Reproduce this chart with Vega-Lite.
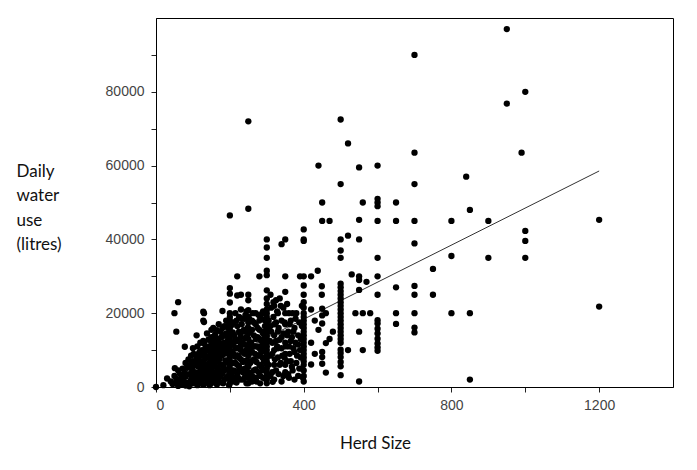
{
  "$schema": "https://vega.github.io/schema/vega-lite/v6.json",
  "width": 517,
  "height": 369,
  "autosize": {"type": "none"},
  "padding": {"left": 156, "top": 18, "right": 24, "bottom": 83},
  "background": "white",
  "config": {
    "view": {"stroke": "black", "strokeWidth": 1},
    "axis": {
      "grid": false,
      "domainColor": "black",
      "tickColor": "#222",
      "tickSize": 5,
      "labelFont": "Liberation Sans",
      "labelFontSize": 14,
      "labelColor": "#444",
      "labelOverlap": false,
      "titleFont": "Lato",
      "titleFontSize": 17,
      "titleFontWeight": "normal",
      "titleColor": "#111"
    }
  },
  "datasets": {
    "herds": [
      {"h":0,"w":0},{"h":20,"w":500},{"h":30,"w":2300},{"h":40,"w":1500},{"h":45,"w":800},{"h":50,"w":3000},{"h":50,"w":1000},{"h":51,"w":5100},{"h":55,"w":2200},{"h":60,"w":4500},{"h":60,"w":1800},{"h":60,"w":300},{"h":65,"w":3500},{"h":50,"w":20000},{"h":55,"w":15000},{"h":60,"w":23000},{"h":78,"w":10900},{"h":128,"w":20400},{"h":128,"w":18000},
      {"h":70,"w":2500},{"h":70,"w":600},{"h":72,"w":5000},{"h":75,"w":1500},{"h":78,"w":3800},{"h":80,"w":6500},{"h":80,"w":2800},{"h":80,"w":400},{"h":85,"w":5200},{"h":85,"w":1200},{"h":88,"w":7500},{"h":90,"w":3500},{"h":90,"w":200},{"h":92,"w":6000},{"h":95,"w":2000},{"h":95,"w":8500},{"h":98,"w":4500},{"h":100,"w":7000},{"h":100,"w":1000},{"h":100,"w":3000},{"h":100,"w":10500},{"h":100,"w":5500},
      {"h":102,"w":9000},{"h":105,"w":4000},{"h":105,"w":1500},{"h":108,"w":6500},{"h":110,"w":14000},{"h":110,"w":8000},{"h":110,"w":2500},{"h":112,"w":500},{"h":112,"w":11000},{"h":115,"w":5500},{"h":115,"w":7500},{"h":118,"w":3000},{"h":118,"w":9500},{"h":120,"w":12000},{"h":120,"w":6000},{"h":120,"w":1000},{"h":120,"w":4200},{"h":122,"w":8800},{"h":125,"w":2000},{"h":125,"w":10000},{"h":125,"w":5000},{"h":125,"w":7000},{"h":128,"w":3500},{"h":128,"w":12500},{"h":130,"w":20000},{"h":130,"w":17600},{"h":130,"w":9000},{"h":130,"w":6500},{"h":130,"w":800},{"h":132,"w":4800},{"h":135,"w":11000},{"h":135,"w":2800},{"h":135,"w":7800},{"h":138,"w":14500},{"h":138,"w":5800},{"h":140,"w":10000},{"h":140,"w":3800},{"h":140,"w":1500},{"h":140,"w":8200},{"h":142,"w":12800},{"h":145,"w":6500},{"h":145,"w":500},{"h":145,"w":4600},{"h":148,"w":9400},{"h":148,"w":2300},{"h":150,"w":13500},{"h":150,"w":7200},{"h":150,"w":11500},{"h":150,"w":3200},{"h":150,"w":15500},{"h":150,"w":5200},{"h":150,"w":1000},
      {"h":105,"w":6000},{"h":108,"w":2500},{"h":112,"w":3800},{"h":115,"w":9000},{"h":118,"w":1200},{"h":122,"w":5500},{"h":125,"w":8500},{"h":128,"w":600},{"h":130,"w":11800},{"h":132,"w":2500},{"h":135,"w":4000},{"h":138,"w":9800},{"h":140,"w":6000},{"h":142,"w":2000},{"h":145,"w":11000},{"h":145,"w":8000},{"h":148,"w":13000},{"h":150,"w":9500},
      {"h":152,"w":8800},{"h":155,"w":10400},{"h":155,"w":4000},{"h":155,"w":16000},{"h":158,"w":6200},{"h":158,"w":1800},{"h":160,"w":12000},{"h":160,"w":14200},{"h":160,"w":8000},{"h":160,"w":3000},{"h":162,"w":9800},{"h":165,"w":5200},{"h":165,"w":15400},{"h":165,"w":11000},{"h":165,"w":700},{"h":168,"w":7000},{"h":170,"w":13000},{"h":170,"w":2500},{"h":170,"w":17000},{"h":170,"w":9500},{"h":172,"w":4500},{"h":175,"w":11800},{"h":175,"w":6000},{"h":175,"w":15000},{"h":178,"w":1200},{"h":178,"w":8500},{"h":180,"w":20600},{"h":180,"w":10500},{"h":180,"w":3800},{"h":180,"w":13800},{"h":182,"w":5800},{"h":185,"w":16500},{"h":185,"w":9000},{"h":185,"w":2000},{"h":185,"w":12000},{"h":188,"w":7200},{"h":190,"w":14500},{"h":190,"w":4800},{"h":190,"w":18000},{"h":192,"w":10800},{"h":195,"w":6800},{"h":195,"w":3000},{"h":195,"w":12800},{"h":195,"w":16000},{"h":198,"w":8800},{"h":198,"w":500},
      {"h":152,"w":4000},{"h":155,"w":6800},{"h":155,"w":12800},{"h":158,"w":2800},{"h":160,"w":10000},{"h":162,"w":5500},{"h":165,"w":8500},{"h":165,"w":13200},{"h":168,"w":1500},{"h":168,"w":4000},{"h":170,"w":11000},{"h":172,"w":7500},{"h":175,"w":3000},{"h":175,"w":9500},{"h":178,"w":13500},{"h":180,"w":6000},{"h":180,"w":16000},{"h":182,"w":1000},{"h":182,"w":11000},{"h":185,"w":4500},{"h":185,"w":14000},{"h":188,"w":9800},{"h":190,"w":2500},{"h":190,"w":7000},{"h":190,"w":12000},{"h":192,"w":16500},{"h":195,"w":4800},{"h":195,"w":9500},{"h":198,"w":14000},{"h":198,"w":11200},{"h":198,"w":6200},{"h":198,"w":2500},
      {"h":200,"w":46500},{"h":200,"w":26800},{"h":200,"w":25300},{"h":200,"w":22900},{"h":200,"w":20000},{"h":200,"w":19000},{"h":200,"w":18000},{"h":200,"w":17000},{"h":200,"w":16000},{"h":200,"w":15000},{"h":200,"w":14000},{"h":200,"w":13000},{"h":200,"w":12000},{"h":200,"w":11000},{"h":200,"w":10000},{"h":200,"w":9000},{"h":200,"w":8000},{"h":200,"w":7000},{"h":200,"w":6000},{"h":200,"w":5000},{"h":200,"w":4000},{"h":200,"w":3000},{"h":200,"w":2000},{"h":200,"w":1000},
      {"h":205,"w":9500},{"h":205,"w":3500},{"h":208,"w":14800},{"h":210,"w":6500},{"h":210,"w":11500},{"h":210,"w":17500},{"h":212,"w":1500},{"h":215,"w":8200},{"h":215,"w":20000},{"h":215,"w":13000},{"h":218,"w":4200},{"h":218,"w":1200},{"h":220,"w":24800},{"h":220,"w":30000},{"h":220,"w":10500},{"h":220,"w":16500},{"h":220,"w":6000},{"h":222,"w":2500},{"h":225,"w":19000},{"h":225,"w":12500},{"h":225,"w":8000},{"h":228,"w":14500},{"h":230,"w":25000},{"h":230,"w":4500},{"h":230,"w":10000},{"h":230,"w":21000},{"h":232,"w":17000},{"h":235,"w":6800},{"h":235,"w":12000},{"h":235,"w":2000},{"h":238,"w":15500},{"h":240,"w":9000},{"h":240,"w":18500},{"h":240,"w":5000},{"h":242,"w":13200},{"h":245,"w":7200},{"h":245,"w":20500},{"h":245,"w":1000},{"h":248,"w":11000},{"h":248,"w":16000},
      {"h":205,"w":6500},{"h":205,"w":12000},{"h":205,"w":16800},{"h":208,"w":2500},{"h":210,"w":9000},{"h":210,"w":4500},{"h":212,"w":14000},{"h":215,"w":10500},{"h":215,"w":6500},{"h":218,"w":18000},{"h":220,"w":12500},{"h":220,"w":3500},{"h":222,"w":8500},{"h":225,"w":15000},{"h":225,"w":5500},{"h":228,"w":11000},{"h":228,"w":2000},{"h":230,"w":7500},{"h":230,"w":13500},{"h":232,"w":18500},{"h":235,"w":9500},{"h":235,"w":4000},{"h":238,"w":11500},{"h":240,"w":15000},{"h":240,"w":7000},{"h":240,"w":2500},{"h":242,"w":19500},{"h":245,"w":10000},{"h":245,"w":4000},{"h":245,"w":13500},{"h":248,"w":6000},
      {"h":250,"w":72000},{"h":250,"w":48300},{"h":250,"w":25000},{"h":250,"w":23500},{"h":250,"w":20800},{"h":250,"w":19000},{"h":250,"w":17500},{"h":250,"w":16000},{"h":250,"w":14500},{"h":250,"w":13000},{"h":250,"w":11500},{"h":250,"w":10000},{"h":250,"w":8500},{"h":250,"w":7000},{"h":250,"w":5500},{"h":250,"w":4000},{"h":250,"w":2500},{"h":250,"w":1000},
      {"h":255,"w":15000},{"h":255,"w":6500},{"h":258,"w":12000},{"h":260,"w":18000},{"h":260,"w":9500},{"h":260,"w":3000},{"h":262,"w":20000},{"h":265,"w":14000},{"h":265,"w":7500},{"h":268,"w":11000},{"h":270,"w":17000},{"h":270,"w":4800},{"h":270,"w":20000},{"h":272,"w":1500},{"h":275,"w":13500},{"h":275,"w":8500},{"h":278,"w":19500},{"h":280,"w":30000},{"h":280,"w":10500},{"h":280,"w":15500},{"h":280,"w":6000},{"h":282,"w":3000},{"h":285,"w":12500},{"h":285,"w":18500},{"h":288,"w":8000},{"h":290,"w":14500},{"h":290,"w":20500},{"h":290,"w":4500},{"h":292,"w":10800},{"h":295,"w":16500},{"h":295,"w":6800},{"h":298,"w":12000},{"h":298,"w":2000},
      {"h":252,"w":9000},{"h":252,"w":18500},{"h":255,"w":3800},{"h":255,"w":12000},{"h":258,"w":7000},{"h":260,"w":15500},{"h":260,"w":1500},{"h":262,"w":11000},{"h":265,"w":4500},{"h":265,"w":17500},{"h":268,"w":9000},{"h":270,"w":13000},{"h":270,"w":2500},{"h":272,"w":6800},{"h":275,"w":16000},{"h":275,"w":11000},{"h":278,"w":4000},{"h":278,"w":8500},{"h":280,"w":13000},{"h":280,"w":18000},{"h":282,"w":1000},{"h":285,"w":9500},{"h":285,"w":5500},{"h":288,"w":15000},{"h":288,"w":20000},{"h":290,"w":11500},{"h":290,"w":2500},{"h":292,"w":7000},{"h":295,"w":13500},{"h":295,"w":18000},{"h":298,"w":9500},{"h":298,"w":4500},
      {"h":300,"w":40000},{"h":300,"w":37800},{"h":300,"w":35000},{"h":300,"w":31500},{"h":300,"w":30300},{"h":300,"w":26200},{"h":300,"w":24000},{"h":300,"w":22500},{"h":300,"w":21000},{"h":300,"w":20000},{"h":300,"w":19000},{"h":300,"w":18000},{"h":300,"w":17000},{"h":300,"w":16000},{"h":300,"w":15000},{"h":300,"w":14000},{"h":300,"w":13000},{"h":300,"w":12000},{"h":300,"w":11000},{"h":300,"w":10000},{"h":300,"w":9000},{"h":300,"w":8000},{"h":300,"w":7000},{"h":300,"w":6000},{"h":300,"w":5000},{"h":300,"w":4000},{"h":300,"w":3000},{"h":300,"w":2000},{"h":300,"w":1000},
      {"h":310,"w":25000},{"h":310,"w":16500},{"h":310,"w":8500},{"h":312,"w":21500},{"h":315,"w":12000},{"h":315,"w":4000},{"h":316,"w":1400},{"h":318,"w":19000},{"h":320,"w":22000},{"h":320,"w":14000},{"h":320,"w":10000},{"h":320,"w":6000},{"h":320,"w":2000},{"h":325,"w":17500},{"h":325,"w":23500},{"h":328,"w":11000},{"h":330,"w":20000},{"h":330,"w":8000},{"h":330,"w":15000},{"h":332,"w":3500},{"h":335,"w":12800},{"h":335,"w":24000},{"h":338,"w":6500},{"h":340,"w":38700},{"h":340,"w":18000},{"h":340,"w":10500},{"h":340,"w":1500},{"h":345,"w":21500},{"h":345,"w":14500},{"h":348,"w":8000},{"h":350,"w":40000},{"h":350,"w":30000},{"h":350,"w":25800},{"h":350,"w":20000},{"h":350,"w":17000},{"h":350,"w":12000},{"h":350,"w":9000},{"h":350,"w":6000},{"h":350,"w":4000},{"h":355,"w":22500},{"h":358,"w":15000},{"h":360,"w":20000},{"h":360,"w":11000},{"h":360,"w":2500},{"h":365,"w":18000},{"h":365,"w":7000},{"h":368,"w":13500},{"h":370,"w":20000},{"h":370,"w":4500},{"h":375,"w":16000},{"h":375,"w":9500},{"h":378,"w":12000},{"h":380,"w":20000},{"h":380,"w":6500},{"h":385,"w":14000},{"h":385,"w":3000},{"h":388,"w":17500},{"h":390,"w":30000},{"h":390,"w":10000},{"h":392,"w":8000},{"h":395,"w":22000},{"h":395,"w":5000},
      {"h":305,"w":18000},{"h":305,"w":6000},{"h":308,"w":12500},{"h":310,"w":3000},{"h":312,"w":15000},{"h":315,"w":9000},{"h":318,"w":23000},{"h":320,"w":17000},{"h":322,"w":7500},{"h":325,"w":12500},{"h":325,"w":4500},{"h":328,"w":20500},{"h":330,"w":10500},{"h":332,"w":16000},{"h":335,"w":6000},{"h":338,"w":22000},{"h":340,"w":13500},{"h":342,"w":8500},{"h":345,"w":3000},{"h":348,"w":17500},{"h":352,"w":11000},{"h":355,"w":7000},{"h":355,"w":14000},{"h":358,"w":3500},{"h":362,"w":17000},{"h":362,"w":9000},{"h":365,"w":12500},{"h":368,"w":5500},{"h":372,"w":15000},{"h":372,"w":10500},{"h":375,"w":2000},{"h":378,"w":18500},{"h":382,"w":8500},{"h":385,"w":11500},{"h":388,"w":5000},{"h":392,"w":13000},{"h":395,"w":16500},{"h":398,"w":2500},
      {"h":400,"w":42700},{"h":400,"w":40000},{"h":400,"w":39600},{"h":400,"w":30000},{"h":400,"w":27500},{"h":400,"w":25000},{"h":400,"w":23000},{"h":400,"w":21500},{"h":400,"w":20000},{"h":400,"w":19000},{"h":400,"w":18000},{"h":400,"w":17000},{"h":400,"w":16000},{"h":400,"w":15000},{"h":400,"w":14000},{"h":400,"w":13000},{"h":400,"w":12000},{"h":400,"w":11000},{"h":400,"w":10000},{"h":400,"w":9000},{"h":400,"w":8000},{"h":400,"w":7000},{"h":400,"w":6000},{"h":400,"w":4500},{"h":400,"w":3000},{"h":400,"w":1500},
      {"h":420,"w":30000},{"h":438,"w":31500},{"h":420,"w":21000},{"h":420,"w":6100},{"h":420,"w":12000},{"h":430,"w":18000},{"h":430,"w":9000},{"h":440,"w":15500},{"h":449,"w":27300},{"h":449,"w":25000},{"h":450,"w":21200},{"h":450,"w":19400},{"h":450,"w":17200},{"h":460,"w":20000},{"h":450,"w":9500},{"h":450,"w":8100},{"h":450,"w":6300},{"h":460,"w":11900},{"h":460,"w":3900},{"h":479,"w":15000},{"h":470,"w":13000},
      {"h":440,"w":60000},{"h":450,"w":50000},{"h":450,"w":45000},{"h":470,"w":45000},
      {"h":500,"w":72500},{"h":500,"w":55000},{"h":500,"w":40000},{"h":500,"w":37000},{"h":500,"w":35000},{"h":500,"w":28000},{"h":500,"w":27000},{"h":500,"w":26000},{"h":500,"w":25000},{"h":500,"w":24000},{"h":500,"w":23000},{"h":500,"w":22000},{"h":500,"w":21000},{"h":500,"w":20000},{"h":500,"w":19000},{"h":500,"w":18000},{"h":500,"w":17000},{"h":500,"w":16000},{"h":500,"w":15000},{"h":500,"w":14000},{"h":500,"w":13000},{"h":500,"w":12000},{"h":500,"w":10100},{"h":500,"w":9200},{"h":500,"w":8100},{"h":500,"w":6800},{"h":500,"w":5600},{"h":500,"w":3200},
      {"h":520,"w":66000},{"h":520,"w":41000},{"h":520,"w":10000},{"h":530,"w":30500},{"h":540,"w":20000},{"h":560,"w":20000},{"h":580,"w":20000},{"h":550,"w":59500},{"h":550,"w":45300},{"h":550,"w":40000},{"h":550,"w":30000},{"h":550,"w":29000},{"h":570,"w":28500},{"h":550,"w":26300},{"h":550,"w":15000},{"h":560,"w":10000},{"h":550,"w":1500},{"h":560,"w":50000},
      {"h":600,"w":60000},{"h":600,"w":51000},{"h":600,"w":50000},{"h":600,"w":49000},{"h":600,"w":45000},{"h":600,"w":35000},{"h":600,"w":30000},{"h":600,"w":25000},{"h":600,"w":18100},{"h":600,"w":17200},{"h":600,"w":15800},{"h":600,"w":14500},{"h":600,"w":13100},{"h":600,"w":11800},{"h":600,"w":10700},{"h":600,"w":9800},
      {"h":650,"w":50000},{"h":650,"w":45000},{"h":650,"w":27000},{"h":650,"w":20000},{"h":650,"w":17100},
      {"h":700,"w":90000},{"h":700,"w":63500},{"h":700,"w":55000},{"h":700,"w":45000},{"h":700,"w":38900},{"h":700,"w":27400},{"h":700,"w":25000},{"h":700,"w":20000},{"h":700,"w":16100},{"h":700,"w":14800},
      {"h":750,"w":32000},{"h":750,"w":25000},{"h":800,"w":45000},{"h":800,"w":35500},{"h":800,"w":20000},{"h":840,"w":57000},{"h":850,"w":48000},{"h":850,"w":20000},{"h":850,"w":2000},{"h":900,"w":45000},{"h":900,"w":35000},{"h":950,"w":97000},{"h":950,"w":76800},{"h":990,"w":63500},{"h":1000,"w":80000},{"h":1000,"w":42300},{"h":1000,"w":39600},{"h":1000,"w":35000},{"h":1200,"w":45300},{"h":1200,"w":21800}
    ],
    "fit": [
      {"h": 40, "w": 300},
      {"h": 1200, "w": 58540}
    ]
  },
  "layer": [
    {
      "data": {"name": "fit"},
      "mark": {"type": "line", "color": "#333", "strokeWidth": 1},
      "encoding": {
        "x": {"field": "h", "type": "quantitative"},
        "y": {"field": "w", "type": "quantitative"}
      }
    },
    {
      "data": {"name": "herds"},
      "mark": {"type": "circle", "color": "black", "opacity": 1, "size": 40},
      "encoding": {
        "x": {
          "field": "h",
          "type": "quantitative",
          "scale": {"domain": [0, 1400], "nice": false, "zero": false},
          "axis": {
            "values": [0, 200, 400, 600, 800, 1000, 1200],
            "labelExpr": "datum.value % 400 === 0 ? datum.label : ''",
            "format": "d",
            "labelPadding": 6,
            "title": "Herd Size",
            "titleX": 219,
            "titleY": 61,
            "titleAlign": "center",
            "titleBaseline": "alphabetic"
          }
        },
        "y": {
          "field": "w",
          "type": "quantitative",
          "scale": {"domain": [0, 100000], "nice": false, "zero": false},
          "axis": {
            "values": [0, 10000, 20000, 30000, 40000, 50000, 60000, 70000, 80000, 90000],
            "labelExpr": "datum.value % 20000 === 0 ? datum.label : ''",
            "format": "d",
            "labelPadding": 7,
            "title": ["Daily", "water", "use", "(litres)"],
            "titleAngle": 0,
            "titleAlign": "left",
            "titleBaseline": "alphabetic",
            "titleX": -140,
            "titleY": 158,
            "titleLineHeight": 24.5
          }
        }
      }
    }
  ]
}
